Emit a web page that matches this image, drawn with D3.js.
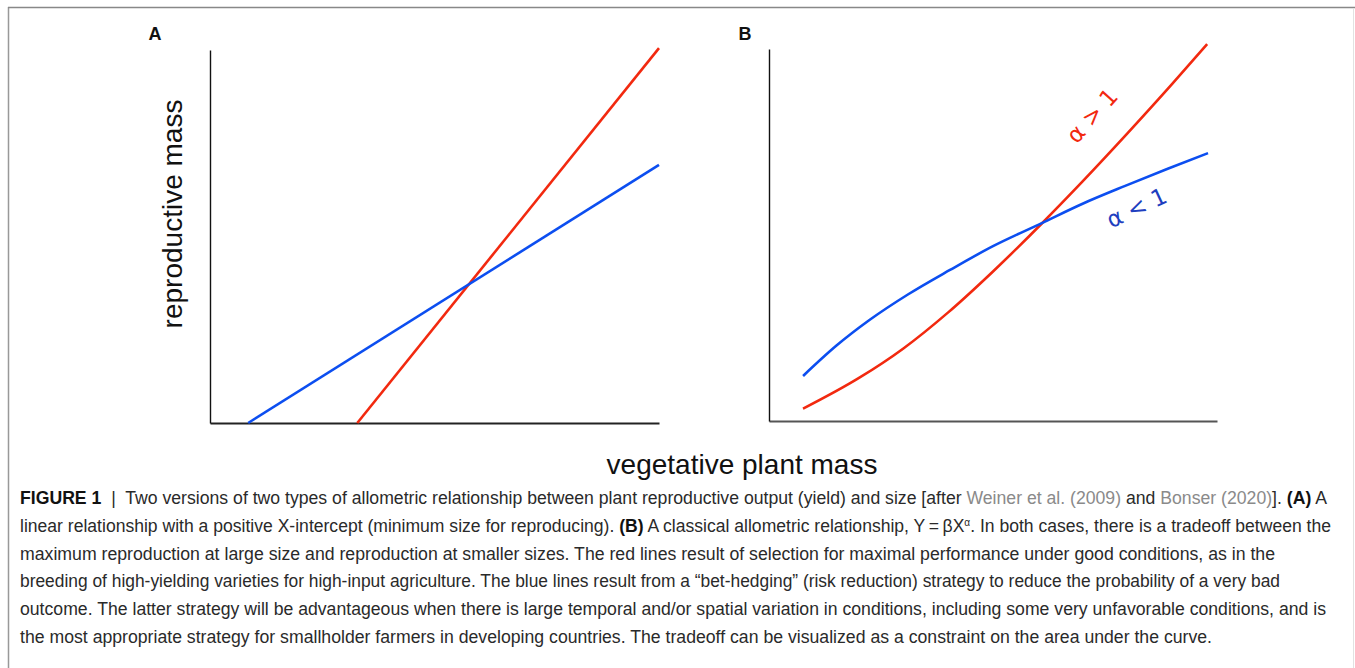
<!DOCTYPE html>
<html>
<head>
<meta charset="utf-8">
<script src="https://cdn.jsdelivr.net/npm/d3@7"></script>
<style>
  html, body { margin: 0; padding: 0; background: #fff; }
  svg { display: block; }
</style>
</head>
<body>
<div id="container"></div>
<script>
// data (arbitrary 0-10 units)
const linearRed = [[3.28, 0], [10, 10.05]];
const linearBlue = [[0.85, 0], [10, 6.92]];
const allometricRed = [[0.76, 0.33], [2, 1.15], [3, 1.95], [4, 2.92], [5, 4.02], [6.09, 5.31], [7, 6.44], [8, 7.73], [9, 9.06], [9.78, 10.13]];
const allometricBlue = [[0.76, 1.21], [1.5, 2.02], [2.25, 2.72], [3.1, 3.4], [4.04, 4.06], [5.0, 4.7], [6.09, 5.32], [7.0, 5.84], [7.95, 6.32], [8.9, 6.78], [9.8, 7.2]];
const panelLetters = ["A", "B"];
const curveLabels = ["\u03b1 > 1", "\u03b1 < 1"];

const captionLines = [
  { end: 1327, parts: [["FIGURE 1", "b"], ["  |  ", "n"], ["Two versions of two types of allometric relationship between plant reproductive output (yield) and size [after ", "n"], ["Weiner et al. (2009)", "g"], [" and ", "n"], ["Bonser (2020)", "g"], ["]. ", "n"], ["(A)", "b"], [" A", "n"]] },
  { end: 1331, parts: [["linear relationship with a positive X-intercept (minimum size for reproducing). ", "n"], ["(B)", "b"], [" A classical allometric relationship, Y\u2009=\u2009\u03b2X", "n"], ["\u03b1", "s"], [". In both cases, there is a tradeoff between the", "n"]] },
  { end: 1275, parts: [["maximum reproduction at large size and reproduction at smaller sizes. The red lines result of selection for maximal performance under good conditions, as in the", "n"]] },
  { end: 1280, parts: [["breeding of high-yielding varieties for high-input agriculture. The blue lines result from a \u201cbet-hedging\u201d (risk reduction) strategy to reduce the probability of a very bad", "n"]] },
  { end: 1326, parts: [["outcome. The latter strategy will be advantageous when there is large temporal and/or spatial variation in conditions, including some very unfavorable conditions, and is", "n"]] },
  { end: 1212, parts: [["the most appropriate strategy for smallholder farmers in developing countries. The tradeoff can be visualized as a constraint on the area under the curve.", "n"]] }
];

const width = 1355;
const height = 668;
const red = "#f2290f";
const blue = "#0c4ef0";

const svg = d3.select("#container")
  .append("svg")
  .attr("width", width)
  .attr("height", height);

// page frame
svg.append("line").attr("x1", 8.5).attr("x2", 8.5).attr("y1", 7).attr("y2", height)
  .attr("stroke", "#999").attr("stroke-width", 1.5);
svg.append("line").attr("x1", 8).attr("x2", width).attr("y1", 7.5).attr("y2", 7.5)
  .attr("stroke", "#888").attr("stroke-width", 1.5);
svg.append("line").attr("x1", 1353.5).attr("x2", 1353.5).attr("y1", 8).attr("y2", height)
  .attr("stroke", "#e2e2e2").attr("stroke-width", 1);

renderPanel(svg, { x0: 210, x1: 659, y0: 423, y1: 50 }, panelLetters[0], [155, 40],
  [{ data: linearRed, color: red }, { data: linearBlue, color: blue }], d3.curveLinear, "#222");
renderPanel(svg, { x0: 769, x1: 1217, y0: 421, y1: 49 }, panelLetters[1], [745, 40],
  [{ data: allometricRed, color: red }, { data: allometricBlue, color: blue }], d3.curveMonotoneX, "#555");

// curve labels in panel B
svg.append("text")
  .attr("transform", "translate(1098,121) rotate(-48)")
  .attr("text-anchor", "middle")
  .attr("fill", red)
  .style("font-family", "'DejaVu Sans', sans-serif")
  .style("font-size", "23px")
  .text(curveLabels[0]);
svg.append("text")
  .attr("transform", "translate(1140,215) rotate(-25)")
  .attr("text-anchor", "middle")
  .attr("fill", "#1f3fc0")
  .style("font-family", "'DejaVu Sans', sans-serif")
  .style("font-size", "23px")
  .text(curveLabels[1]);

// axis titles
svg.append("text")
  .attr("transform", "translate(182,214) rotate(-90)")
  .attr("text-anchor", "middle")
  .attr("fill", "#111")
  .style("font-family", "'Liberation Sans', Arial, sans-serif")
  .style("font-size", "28px")
  .text("reproductive mass");
svg.append("text")
  .attr("x", 742)
  .attr("y", 474)
  .attr("text-anchor", "middle")
  .attr("fill", "#111")
  .style("font-family", "'Liberation Sans', Arial, sans-serif")
  .style("font-size", "28px")
  .text("vegetative plant mass");

renderCaption(svg);

function renderPanel(root, box, letter, letterPos, series, curve, xAxisColor) {
  const scaleX = d3.scaleLinear().domain([0, 10]).range([box.x0, box.x1]);
  const scaleY = d3.scaleLinear().domain([0, 10]).range([box.y0, box.y1]);

  const g = root.append("g").attr("class", "panel");

  // axes without ticks
  g.append("g")
    .attr("transform", `translate(0, ${box.y0})`)
    .call(d3.axisBottom(scaleX).ticks(0).tickSizeOuter(0))
    .call(a => a.select(".domain").attr("stroke", xAxisColor).attr("stroke-width", 1.8));
  g.append("g")
    .attr("transform", `translate(${box.x0}, 0)`)
    .call(d3.axisLeft(scaleY).ticks(0).tickSizeOuter(0))
    .call(a => a.select(".domain").attr("stroke", "#111").attr("stroke-width", 1.4));

  const line = d3.line()
    .x(d => scaleX(d[0]))
    .y(d => scaleY(d[1]))
    .curve(curve);

  g.selectAll("path.series")
    .data(series)
    .join("path")
    .attr("class", "series")
    .attr("fill", "none")
    .attr("stroke", d => d.color)
    .attr("stroke-width", 2.6)
    .attr("d", d => line(d.data));

  g.append("text")
    .attr("x", letterPos[0])
    .attr("y", letterPos[1])
    .attr("text-anchor", "middle")
    .attr("fill", "#111")
    .style("font-family", "'Liberation Sans', Arial, sans-serif")
    .style("font-weight", "bold")
    .style("font-size", "18px")
    .text(letter);
}

function renderCaption(root) {
  const x0 = 20;
  const baselines = [504, 532, 560, 587, 615, 643];
  const styles = {
    n: { fill: "#2a2a2a", weight: "normal" },
    b: { fill: "#111", weight: "bold" },
    g: { fill: "#8a8a8a", weight: "normal" },
    s: { fill: "#2a2a2a", weight: "normal" }
  };
  captionLines.forEach((ln, i) => {
    const t = root.append("text")
      .attr("x", x0)
      .attr("y", baselines[i])
      .attr("textLength", ln.end - x0)
      .attr("lengthAdjust", "spacingAndGlyphs")
      .style("font-family", "'Liberation Sans', Arial, sans-serif")
      .style("font-size", "17.5px")
      .style("white-space", "pre");
    ln.parts.forEach(([txt, k]) => {
      const ts = t.append("tspan")
        .attr("fill", styles[k].fill)
        .style("font-weight", styles[k].weight)
        .text(txt);
      if (k === "s") {
        ts.attr("dy", -6).style("font-size", "10px");
      }
    });
    // restore baseline after superscript
    const sup = ln.parts.findIndex(p => p[1] === "s");
    if (sup >= 0) {
      t.selectAll("tspan").filter((d, j) => j === sup + 1).attr("dy", 6);
    }
  });
}
</script>
</body>
</html>
